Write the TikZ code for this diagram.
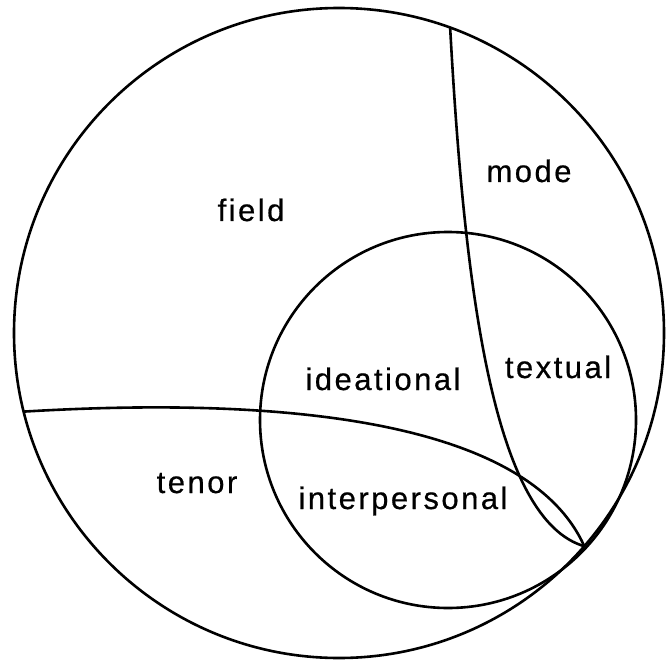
\documentclass[tikz,border=0pt]{standalone}
\usepackage{fontspec}
\setmainfont{Liberation Sans}
\newfontfamily\lblfont[LetterSpace=8,FakeBold=0.6]{Liberation Sans}
\usepackage{tikz}

\begin{document}
\begin{tikzpicture}[x=1pt,y=-1pt,line width=2.6pt,
    lbl/.style={anchor=base,inner sep=0pt,font=\lblfont\fontsize{31}{36}\selectfont},
    ring/.style={circle,draw,inner sep=0pt,outer sep=0pt}]
        \useasboundingbox (0,0) rectangle (666,660);
        % Circles
        \node[ring,minimum size=650pt] (outer) at (339,333) {};
        \node[ring,minimum size=376pt] (inner) at (448,420) {};
        \coordinate (top) at (outer.70);
        \coordinate (left) at (outer.194);
        \coordinate (meet) at (outer.-41);
        % Dividing curves
        \draw (top) .. controls (465,300) and (495,520) .. (meet);
        \draw (left) .. controls (300,395) and (530,425) .. (meet);
        % Labels
        \node[lbl] (field) at (251,221) {field};
        \node[lbl] (mode) at (529,182) {mode};
        \node[lbl] (ideational) at (383,390) {ideational};
        \node[lbl] (textual) at (558,378) {textual};
        \node[lbl] (tenor) at (197,493) {tenor};
        \node[lbl] (interpersonal) at (403,509) {interpersonal};
      \end{tikzpicture}
\end{document}
